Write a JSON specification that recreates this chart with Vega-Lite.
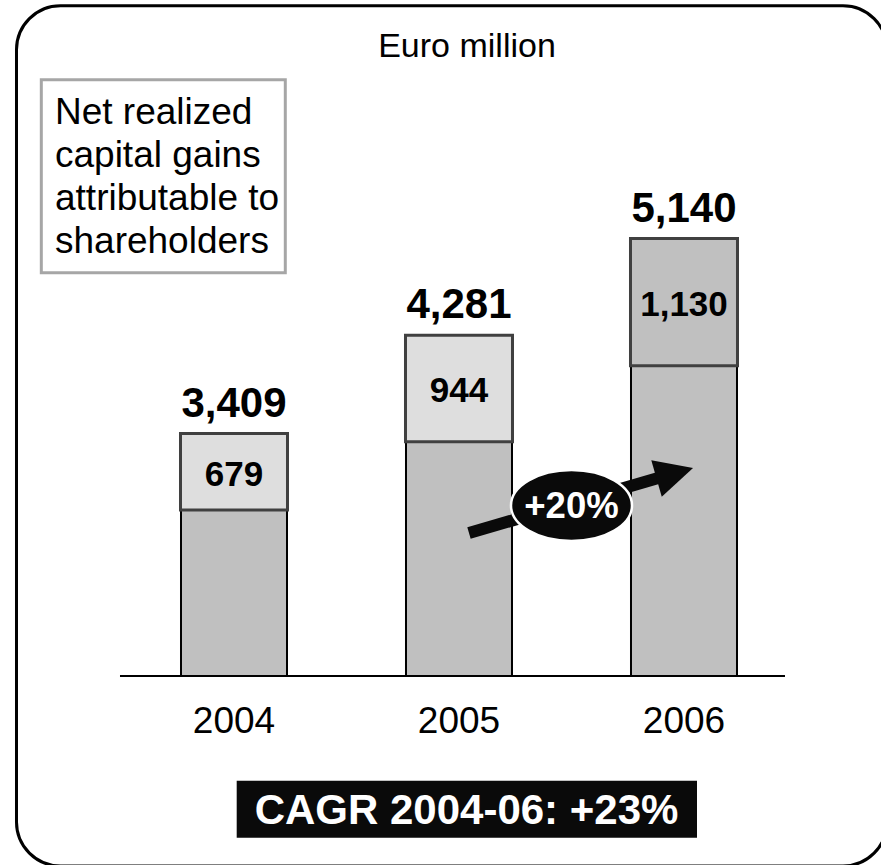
{
  "$schema": "https://vega.github.io/schema/vega-lite/v6.json",
  "width": 881,
  "height": 865,
  "autosize": "none",
  "padding": 0,
  "background": "white",
  "config": {"view": {"stroke": null}, "font": "Liberation Sans", "scale": {"continuousPadding": 0}},
  "data": {
    "values": [
      {"year": 2004, "base": 2730, "gains": 679, "total": 3409},
      {"year": 2005, "base": 3337, "gains": 944, "total": 4281},
      {"year": 2006, "base": 4010, "gains": 1130, "total": 5140}
    ]
  },
  "layer": [
    {
      "data": {"values": [{}]},
      "mark": {"type": "rect", "fill": "transparent", "stroke": "black", "strokeWidth": 3, "cornerRadius": 44, "clip": true},
      "encoding": {
        "x": {"datum": 2003.0333, "type": "quantitative", "scale": {"domain": [2002.96, 2006.8756], "nice": false, "zero": false, "padding": 0}, "axis": null},
        "x2": {"datum": 2006.9022},
        "y": {"datum": 7206, "type": "quantitative", "scale": {"domain": [-420.6, 7257.3], "nice": false, "zero": false, "padding": 0}, "axis": null},
        "y2": {"datum": -429.4}
      }
    },
    {
      "data": {"values": [{}]},
      "mark": {"type": "rect", "fill": "white", "stroke": "#a6a6a6", "strokeWidth": 3},
      "encoding": {
        "x": {"datum": 2003.1436, "type": "quantitative", "axis": null},
        "x2": {"datum": 2004.228},
        "y": {"datum": 6548.9, "type": "quantitative", "axis": null},
        "y2": {"datum": 4835.9}
      }
    },
    {
      "data": {"values": [{"label": "Net realized\ncapital gains\nattributable to\nshareholders"}]},
      "mark": {"type": "text", "lineBreak": "\n", "lineHeight": 43, "fontSize": 37, "align": "left", "baseline": "alphabetic", "color": "black"},
      "encoding": {
        "x": {"datum": 2003.2044, "type": "quantitative", "axis": null},
        "y": {"datum": 6156.6, "type": "quantitative", "axis": null},
        "text": {"field": "label"}
      }
    },
    {
      "data": {"values": [{"label": "Euro million"}]},
      "mark": {"type": "text", "fontSize": 34, "align": "center", "baseline": "alphabetic", "color": "black"},
      "encoding": {
        "x": {"datum": 2005.0356, "type": "quantitative", "axis": null},
        "y": {"datum": 6754, "type": "quantitative", "axis": null},
        "text": {"field": "label"}
      }
    },
    {
      "mark": {"type": "bar", "size": 106, "fill": "#c0c0c0", "stroke": "black", "strokeWidth": 2},
      "encoding": {
        "x": {"field": "year", "type": "quantitative", "scale": {"domain": [2002.96, 2006.8756], "nice": false, "zero": false, "padding": 0}, "axis": null},
        "y": {"field": "base", "type": "quantitative", "scale": {"domain": [-420.6, 7257.3], "nice": false, "zero": false, "padding": 0}, "axis": null},
        "y2": {"datum": 1257}
      }
    },
    {
      "mark": {"type": "bar", "size": 107, "stroke": "#404040", "strokeWidth": 3},
      "encoding": {
        "x": {"field": "year", "type": "quantitative", "axis": null},
        "y": {"field": "total", "type": "quantitative", "axis": null},
        "y2": {"field": "base"},
        "fill": {"condition": {"test": "datum.year === 2006", "value": "#c0c0c0"}, "value": "#dedede"}
      }
    },
    {
      "mark": {"type": "text", "fontSize": 42, "fontWeight": "bold", "align": "center", "baseline": "alphabetic", "dy": -17, "color": "black"},
      "encoding": {
        "x": {"field": "year", "type": "quantitative", "axis": null},
        "y": {"field": "total", "type": "quantitative", "axis": null},
        "text": {"field": "total", "type": "quantitative", "format": ","}
      }
    },
    {
      "transform": [{"fold": ["base", "gains"], "as": ["segment", "amount"]}],
      "mark": {"type": "text", "fontSize": 35, "fontWeight": "bold", "align": "center", "baseline": "middle", "dy": 3, "color": "black"},
      "encoding": {
        "x": {"field": "year", "type": "quantitative", "axis": null},
        "y": {"field": "amount", "type": "quantitative", "stack": "zero", "bandPosition": 0.5, "axis": null},
        "detail": {"field": "segment"},
        "order": {"field": "segment", "sort": "ascending"},
        "text": {"field": "amount", "type": "quantitative", "format": ","},
        "opacity": {"condition": {"test": "datum.segment === 'gains'", "value": 1}, "value": 0}
      }
    },
    {
      "mark": {"type": "text", "fontSize": 37, "align": "center", "baseline": "alphabetic", "dy": 57, "color": "black"},
      "encoding": {
        "x": {"field": "year", "type": "quantitative", "axis": null},
        "y": {"datum": 1257, "type": "quantitative", "axis": null},
        "text": {"field": "year", "type": "nominal"}
      }
    },
    {
      "data": {"values": [{}]},
      "mark": {"type": "rule", "stroke": "black", "strokeWidth": 2},
      "encoding": {
        "x": {"datum": 2003.4933, "type": "quantitative", "axis": null},
        "x2": {"datum": 2006.4489},
        "y": {"datum": 1257, "type": "quantitative", "axis": null}
      }
    },
    {
      "data": {"values": [{}]},
      "mark": {"type": "rule", "stroke": "#0a0a0a", "strokeWidth": 12, "strokeCap": "butt"},
      "encoding": {
        "x": {"datum": 2005.0444, "type": "quantitative", "axis": null},
        "y": {"datum": 2526.3, "type": "quantitative", "axis": null},
        "x2": {"datum": 2005.8933},
        "y2": {"datum": 3018}
      }
    },
    {
      "data": {"values": [{}]},
      "mark": {"type": "point", "shape": "M -1 -1 L 1 0 L -1 1 Z", "size": 1444, "filled": true, "fill": "#0a0a0a", "opacity": 1, "angle": 344},
      "encoding": {
        "x": {"datum": 2005.9591, "type": "quantitative", "axis": null},
        "y": {"datum": 3056.2, "type": "quantitative", "axis": null}
      }
    },
    {
      "data": {"values": [{}]},
      "mark": {"type": "point", "shape": "M -1 0 A 1 0.587 0 1 1 1 0 A 1 0.587 0 1 1 -1 0 Z", "size": 14641, "filled": true, "fill": "#0a0a0a", "stroke": "white", "strokeWidth": 2.5, "opacity": 1},
      "encoding": {
        "x": {"datum": 2005.5, "type": "quantitative", "axis": null},
        "y": {"datum": 2770.4, "type": "quantitative", "axis": null}
      }
    },
    {
      "data": {"values": [{"label": "+20%"}]},
      "mark": {"type": "text", "fontSize": 36.5, "fontWeight": "bold", "align": "center", "baseline": "middle", "dy": 2, "color": "white"},
      "encoding": {
        "x": {"datum": 2005.5, "type": "quantitative", "axis": null},
        "y": {"datum": 2770.4, "type": "quantitative", "axis": null},
        "text": {"field": "label"}
      }
    },
    {
      "data": {"values": [{}]},
      "mark": {"type": "rect", "fill": "#0a0a0a"},
      "encoding": {
        "x": {"datum": 2004.012, "type": "quantitative", "axis": null},
        "x2": {"datum": 2006.0578},
        "y": {"datum": 327.7, "type": "quantitative", "axis": null},
        "y2": {"datum": -178.3}
      }
    },
    {
      "data": {"values": [{"label": "CAGR 2004-06: +23%"}]},
      "mark": {"type": "text", "fontSize": 42, "fontWeight": "bold", "align": "center", "baseline": "middle", "dy": 2, "color": "white"},
      "encoding": {
        "x": {"datum": 2005.0333, "type": "quantitative", "axis": null},
        "y": {"datum": 74.7, "type": "quantitative", "axis": null},
        "text": {"field": "label"}
      }
    }
  ]
}
